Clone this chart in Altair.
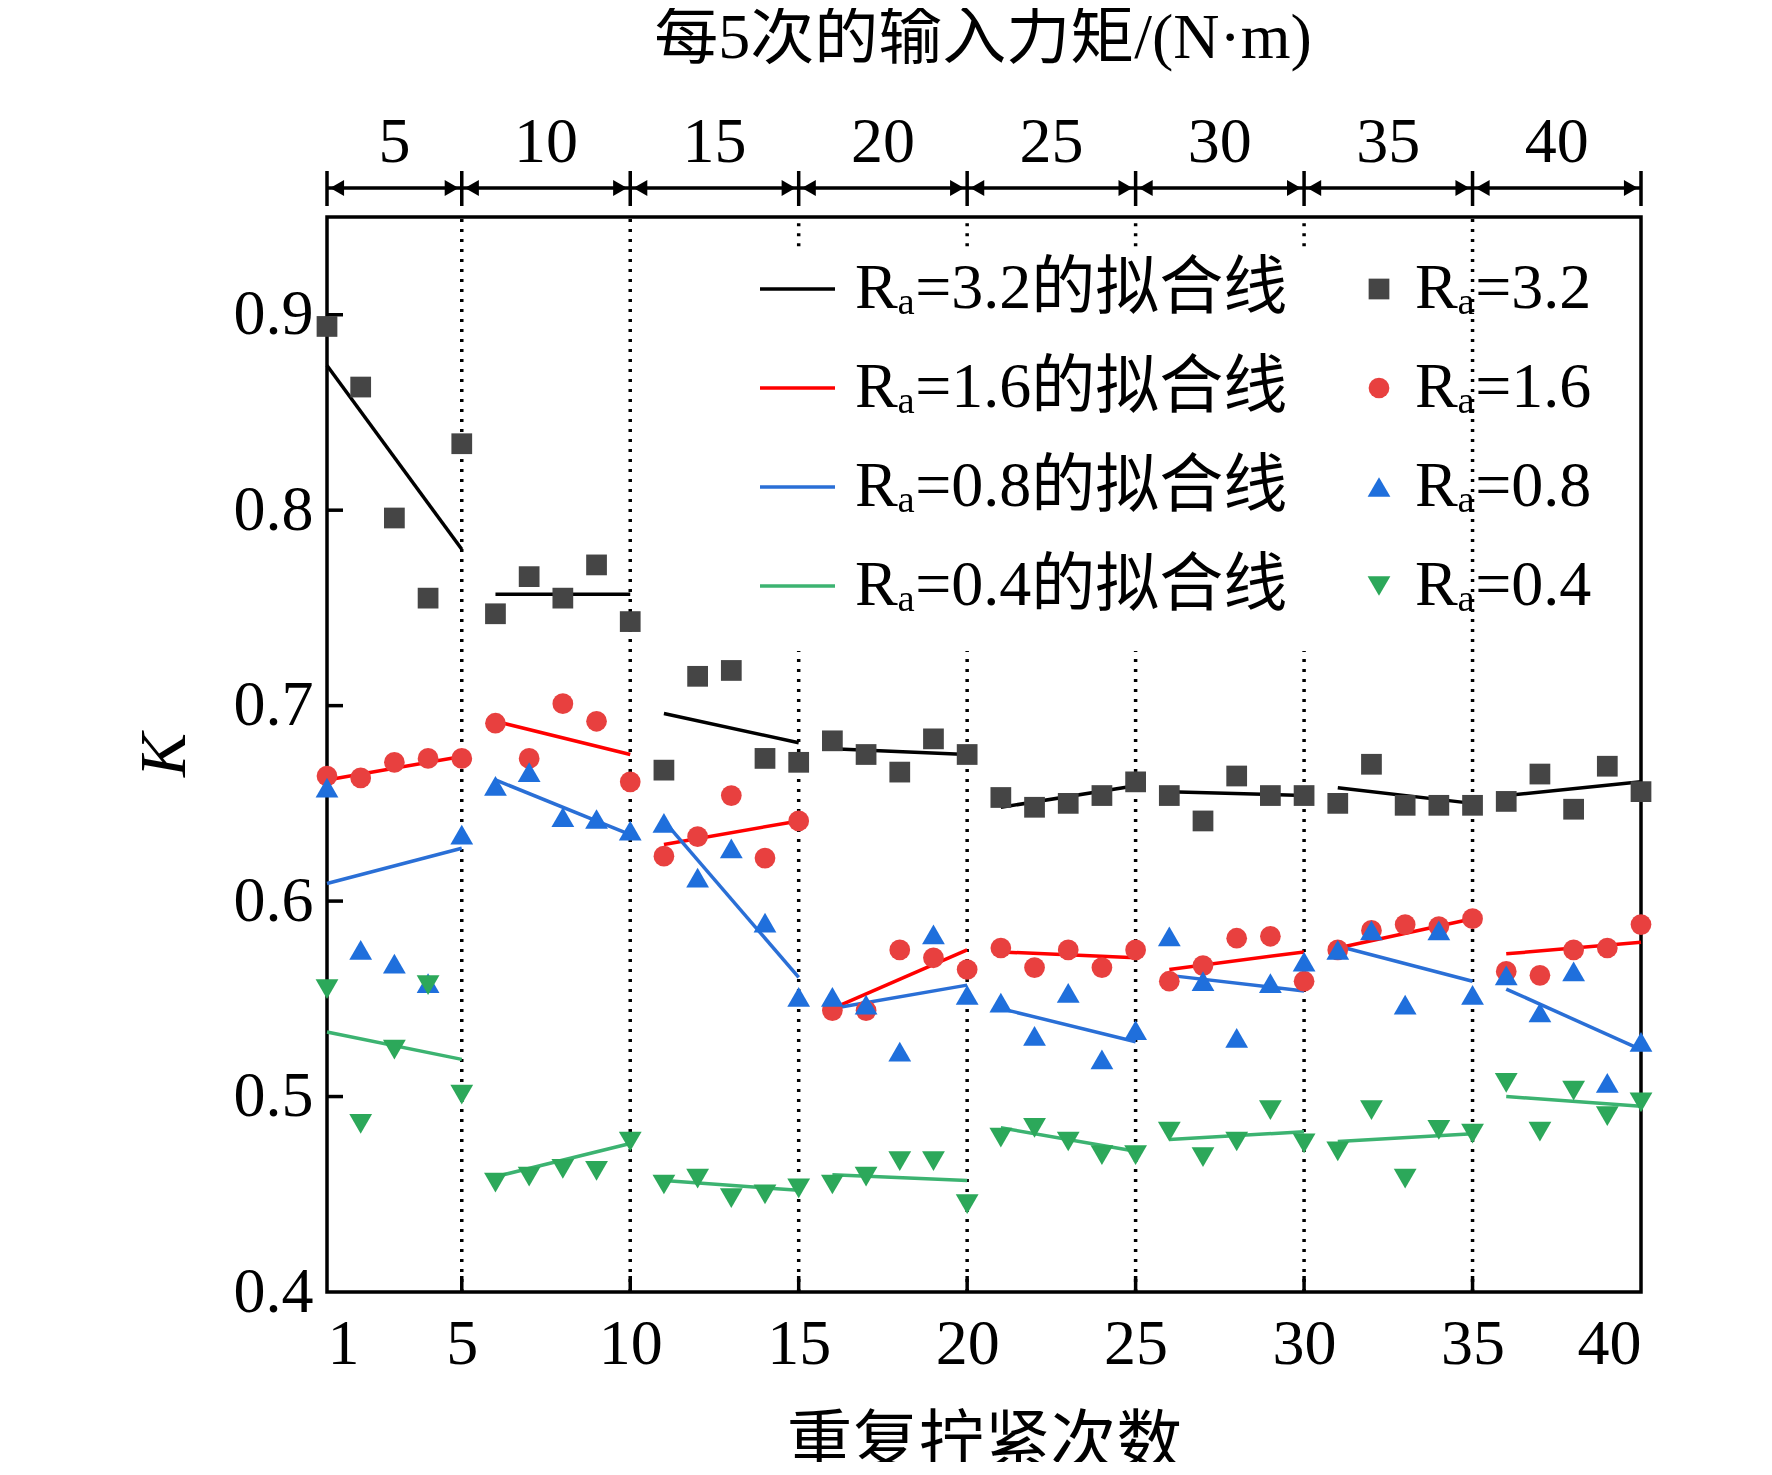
import altair as alt
import pandas as pd

x_vals = list(range(1, 41))
k32 = [0.894,0.863,0.796,0.755,0.834,0.747,0.766,0.755,0.772,0.743,0.667,0.715,0.718,0.673,0.671,0.682,0.675,0.666,0.683,0.675,
       0.653,0.648,0.650,0.654,0.661,0.654,0.641,0.664,0.654,0.654,0.650,0.670,0.649,0.649,0.649,0.651,0.665,0.647,0.669,0.656]
k16 = [0.664,0.663,0.671,0.673,0.673,0.691,0.673,0.701,0.692,0.661,0.623,0.633,0.654,0.622,0.641,0.544,0.544,0.575,0.571,0.565,
       0.576,0.566,0.575,0.566,0.575,0.559,0.567,0.581,0.582,0.559,0.575,0.585,0.588,0.587,0.591,0.564,0.562,0.575,0.576,0.588]
k08 = [0.658,0.575,0.568,0.558,0.634,0.659,0.666,0.643,0.642,0.636,0.640,0.612,0.627,0.589,0.551,0.551,0.547,0.523,0.583,0.552,
       0.548,0.531,0.553,0.519,0.534,0.582,0.559,0.530,0.558,0.569,0.575,0.585,0.547,0.585,0.552,0.562,0.543,0.564,0.507,0.528]
k04 = [0.555,0.486,0.524,0.557,0.501,0.456,0.459,0.463,0.462,0.477,0.455,0.458,0.448,0.450,0.453,0.455,0.459,0.467,0.467,0.445,
       0.479,0.484,0.477,0.470,0.470,0.482,0.469,0.477,0.493,0.476,0.472,0.493,0.458,0.483,0.481,0.507,0.482,0.503,0.490,0.497]

fit32 = [(0.874,0.780),(0.757,0.757),(0.696,0.681),(0.678,0.675),(0.648,0.659),(0.656,0.654),(0.658,0.650),(0.654,0.661)]
fit16 = [(0.662,0.674),(0.692,0.675),(0.629,0.641),(0.545,0.575),(0.574,0.571),(0.565,0.574),(0.576,0.591),(0.573,0.579)]
fit08 = [(0.609,0.627),(0.662,0.634),(0.641,0.561),(0.545,0.557),(0.545,0.528),(0.562,0.554),(0.577,0.559),(0.555,0.524)]
fit04 = [(0.533,0.519),(0.459,0.476),(0.457,0.452),(0.460,0.457),(0.484,0.472),(0.478,0.482),(0.477,0.481),(0.500,0.495)]

series = ["3.2", "1.6", "0.8", "0.4"]
pt_colors = ["#454545", "#e8403f", "#1f6fdc", "#2ca85a"]
ln_colors = ["#000000", "#ff0000", "#2a6fd6", "#3cb371"]
shapes = ["square", "circle", "triangle-up", "triangle-down"]
sizes = [430, 430, 520, 520]
top_labels = ["5", "10", "15", "20", "25", "30", "35", "40"]
bounds = [1, 5, 10, 15, 20, 25, 30, 35, 40]

FONT = "Liberation Serif, Noto Sans CJK SC"
FS = 64
SW = 3.5
xs = alt.Scale(domain=[1, 40], nice=False, zero=False)
ys = alt.Scale(domain=[0.4, 0.95], nice=False, zero=False)

rows = []
for s, arr in zip(series, [k32, k16, k08, k04]):
    for x, v in zip(x_vals, arr):
        rows.append({"x": x, "k": v, "s": s})
pts = pd.DataFrame(rows)

frows = []
for s, fits in zip(series, [fit32, fit16, fit08, fit04]):
    for g, (a, b) in enumerate(fits):
        frows.append({"x": 5 * g + 1, "k": a, "s": s, "g": f"{s}-{g}"})
        frows.append({"x": 5 * g + 5, "k": b, "s": s, "g": f"{s}-{g}"})
fits_df = pd.DataFrame(frows)

xaxis = alt.Axis(values=bounds, labelFontSize=FS, labelFont=FONT, title="重复拧紧次数", titleFontSize=66,
                 titleFont=FONT, titleFontWeight="normal", titlePadding=35, ticks=False, domain=False,
                 labelPadding=20, grid=False, labelColor="black", titleColor="black")
yaxis = alt.Axis(values=[0.4,0.5,0.6,0.7,0.8,0.9], format=".1f", labelFontSize=FS, labelFont=FONT, title="K",
                 titleFontSize=66, titleFont=FONT, titleFontStyle="italic", titleFontWeight="normal",
                 titlePadding=35, ticks=False, domain=False, labelPadding=14, grid=False,
                 labelColor="black", titleColor="black")

layers = []
sep = pd.DataFrame({"x": [5, 10, 15, 20, 25, 30, 35], "y0": [0.4]*7,
                    "y1": [0.95, 0.95, 0.728, 0.728, 0.728, 0.728, 0.95]})
layers.append(alt.Chart(sep).mark_rule(color="black", strokeDash=[3, 7], strokeWidth=SW).encode(
    x=alt.X("x:Q", scale=xs, axis=xaxis), y=alt.Y("y0:Q", scale=ys, axis=yaxis), y2="y1:Q"))
sep2 = pd.DataFrame({"x": [15, 20, 25, 30], "y0": [0.935]*4, "y1": [0.95]*4})
layers.append(alt.Chart(sep2).mark_rule(color="black", strokeDash=[3, 7], strokeWidth=SW).encode(
    x=alt.X("x:Q", scale=xs), y=alt.Y("y0:Q", scale=ys), y2="y1:Q"))
yt = pd.DataFrame({"y": [0.5, 0.6, 0.7, 0.8, 0.9]})
layers.append(alt.Chart(yt).mark_rule(color="black", strokeWidth=SW).encode(
    y=alt.Y("y:Q", scale=ys), x=alt.value(0), x2=alt.value(16)))
xt = pd.DataFrame({"x": bounds[1:-1]})
layers.append(alt.Chart(xt).mark_rule(color="black", strokeWidth=SW).encode(
    x=alt.X("x:Q", scale=xs), y=alt.value(1075), y2=alt.value(1059)))

layers.append(alt.Chart(fits_df).mark_line(strokeWidth=SW).encode(
    x=alt.X("x:Q", scale=xs), y=alt.Y("k:Q", scale=ys), detail="g:N",
    color=alt.Color("s:N", scale=alt.Scale(domain=series, range=ln_colors), legend=None)))
for s, c, sh, sz in zip(series, pt_colors, shapes, sizes):
    layers.append(alt.Chart(pts[pts.s == s]).mark_point(shape=sh, filled=True, size=sz, opacity=1, color=c).encode(
        x=alt.X("x:Q", scale=xs), y=alt.Y("k:Q", scale=ys)))

# top axis
layers.append(alt.Chart(pd.DataFrame({"a": [1], "b": [40]})).mark_rule(color="black", strokeWidth=SW).encode(
    x=alt.X("a:Q", scale=xs), x2="b:Q", y=alt.value(-29)))
bd = pd.DataFrame({"x": bounds})
layers.append(alt.Chart(bd).mark_rule(color="black", strokeWidth=SW).encode(
    x=alt.X("x:Q", scale=xs), y=alt.value(-46), y2=alt.value(-11)))
arr_l = pd.DataFrame({"x": [b + 0.3 for b in bounds[:-1]]})
arr_r = pd.DataFrame({"x": [b - 0.3 for b in bounds[1:]]})
layers.append(alt.Chart(arr_l).mark_point(shape="triangle-left", filled=True, size=260, color="black", opacity=1).encode(
    x=alt.X("x:Q", scale=xs), y=alt.value(-29)))
layers.append(alt.Chart(arr_r).mark_point(shape="triangle-right", filled=True, size=260, color="black", opacity=1).encode(
    x=alt.X("x:Q", scale=xs), y=alt.value(-29)))
tl = pd.DataFrame({"x": [(a + b) / 2 for a, b in zip(bounds[:-1], bounds[1:])], "t": top_labels})
layers.append(alt.Chart(tl).mark_text(fontSize=FS, font=FONT, color="black").encode(
    x=alt.X("x:Q", scale=xs), y=alt.value(-74), text="t:N"))
layers.append(alt.Chart(pd.DataFrame({"t": ["每5次的输入力矩/(N·m)"]})).mark_text(
    fontSize=FS, font=FONT, color="black").encode(x=alt.value(656), y=alt.value(-178), text="t:N"))

# legend
for i, (s, lc, pc, sh, sz) in enumerate(zip(series, ln_colors, pt_colors, shapes, sizes)):
    yy = 72 + 99 * i
    d = pd.DataFrame({"t1": [f"Rₐ={s}的拟合线"], "t2": [f"Rₐ={s}"]})
    base = alt.Chart(d)
    layers.append(base.mark_rule(color=lc, strokeWidth=SW).encode(x=alt.value(433), x2=alt.value(508), y=alt.value(yy)))
    layers.append(base.mark_text(fontSize=FS, font=FONT, align="left", color="black").encode(
        x=alt.value(528), y=alt.value(yy), text="t1:N"))
    layers.append(base.mark_point(shape=sh, filled=True, size=sz, color=pc, opacity=1).encode(
        x=alt.value(1052), y=alt.value(yy)))
    layers.append(base.mark_text(fontSize=FS, font=FONT, align="left", color="black").encode(
        x=alt.value(1088), y=alt.value(yy), text="t2:N"))

chart = alt.layer(*layers).properties(
    width=1314, height=1075,
    background="white",
    autosize=alt.AutoSizeParams(type="none"),
    padding={"left": 319, "top": 209, "right": 120, "bottom": 170},
).configure_view(stroke="black", strokeWidth=SW)

chart.save("out.html", embed_options={"renderer": "svg", "actions": False})
